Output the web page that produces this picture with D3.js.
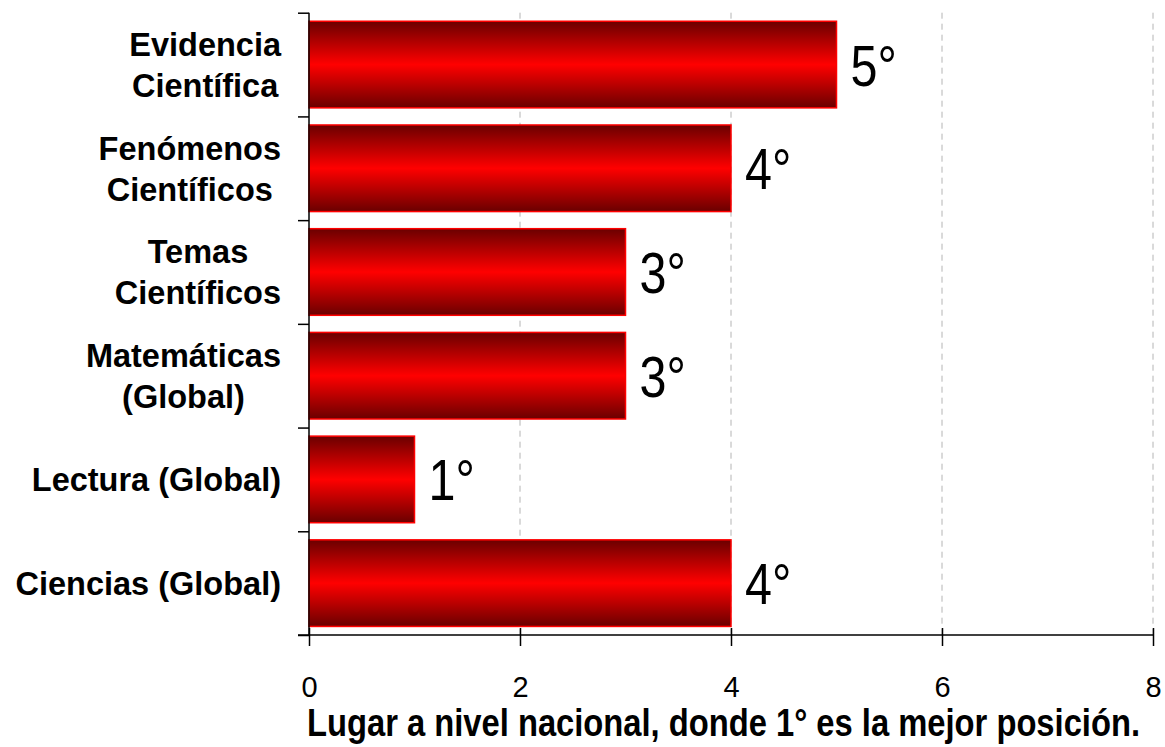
<!DOCTYPE html>
<html>
<head>
<meta charset="utf-8">
<script src="https://cdn.jsdelivr.net/npm/d3@7/dist/d3.min.js"></script>
<style>
  body { margin: 0; background: #fff; }
  svg { display: block; }
</style>
</head>
<body>
<div id="chart"></div>
<script>
// data, top to bottom
var categories = [
  ["Evidencia", "Científica"],
  ["Fenómenos", "Científicos"],
  ["Temas", "Científicos"],
  ["Matemáticas", "(Global)"],
  ["Lectura (Global)"],
  ["Ciencias (Global)"]
];
var values = [5, 4, 3, 3, 1, 4];
var rankLabels = ["5°", "4°", "3°", "3°", "1°", "4°"];
var xTicks = [0, 2, 4, 6, 8];
var xTitle = "Lugar a nivel nacional, donde 1° es la mejor posición.";

var W = 1165, H = 747;
var plotLeft = 309, plotRight = 1153, plotTop = 12.7, plotBottom = 635;
var sans = "'Liberation Sans', Arial, sans-serif";
var squeeze = 0.85; // no narrow font installed, so squeeze horizontally

var svg = d3.select("#chart")
  .append("svg")
  .attr("width", W)
  .attr("height", H);

var defs = svg.append("defs");
var grad = defs.append("linearGradient")
  .attr("id", "barGrad")
  .attr("x1", 0).attr("y1", 0).attr("x2", 0).attr("y2", 1);
grad.append("stop").attr("offset", "0%").attr("stop-color", "#6a0000");
grad.append("stop").attr("offset", "50%").attr("stop-color", "#ff0000");
grad.append("stop").attr("offset", "100%").attr("stop-color", "#6a0000");

var x = d3.scaleLinear().domain([0, 8]).range([plotLeft, plotRight]);

var idx = d3.range(categories.length);
var y = d3.scaleBand()
  .domain(idx)
  .range([plotTop, plotBottom])
  .paddingInner(0.165)
  .paddingOuter(0.0825);

// band boundaries for the left axis ticks
var yEdge = d3.scaleLinear().domain([0, categories.length]).range([plotTop, plotBottom]);

// dashed grid
svg.append("g")
  .selectAll("line")
  .data(xTicks.filter(d => d > 0))
  .enter()
  .append("line")
  .attr("x1", d => x(d)).attr("x2", d => x(d))
  .attr("y1", plotTop).attr("y2", plotBottom)
  .style("stroke", "#b4b4b4")
  .style("stroke-width", 1)
  .style("stroke-dasharray", "6,5");

// bars
svg.append("g")
  .selectAll("rect")
  .data(values)
  .enter()
  .append("rect")
  .attr("x", x(0))
  .attr("y", (d, i) => y(i))
  .attr("width", d => x(d) - x(0))
  .attr("height", y.bandwidth())
  .style("fill", "url(#barGrad)")
  .style("stroke", "#ff0000")
  .style("stroke-width", 1.5);

// value labels
svg.append("g")
  .selectAll("text")
  .data(values)
  .enter()
  .append("text")
  .attr("transform", (d, i) => "translate(" + (x(d) + 14) + "," + (y(i) + y.bandwidth() / 2 + 21) + ") scale(" + squeeze + ",1)")
  .style("font-family", sans)
  .style("font-size", "57px")
  .style("fill", "#000")
  .text((d, i) => rankLabels[i]);

// y axis (ticks on band edges)
var yAxis = svg.append("g")
  .attr("transform", "translate(" + plotLeft + ",0)")
  .call(d3.axisLeft(yEdge).tickValues(d3.range(categories.length + 1)).tickSize(11).tickFormat(""));
yAxis.select(".domain").attr("d", "M0," + plotTop + "V" + plotBottom);
yAxis.selectAll("line, path").style("stroke", "#000").style("stroke-width", 1.5);

// x axis
var xAxis = svg.append("g")
  .attr("transform", "translate(0," + plotBottom + ")")
  .call(d3.axisBottom(x).tickValues(xTicks).tickSize(11).tickPadding(30));
xAxis.select(".domain").attr("d", "M" + (plotLeft - 11) + ",0H" + plotRight);
xAxis.selectAll(".tick line").attr("y1", -7);
xAxis.selectAll("line, path").style("stroke", "#000").style("stroke-width", 1.5);
xAxis.selectAll("text")
  .style("font-family", sans)
  .style("font-size", "29px")
  .style("fill", "#000");

// category labels, centered block, right edge at 281
var catG = svg.append("g");
categories.forEach(function(lines, i) {
  var cy = y(i) + y.bandwidth() / 2;
  var t = catG.append("text")
    .attr("text-anchor", "middle")
    .style("font-family", sans)
    .style("font-weight", "bold")
    .style("font-size", "32.5px")
    .style("fill", "#000");
  var spans = lines.map(function(s) {
    return t.append("tspan").text(s);
  });
  var maxW = d3.max(spans, s => s.node().getComputedTextLength());
  var cx = 281 - maxW / 2;
  var first = cy + 12 - (lines.length - 1) * 41 / 2;
  spans.forEach(function(s, j) {
    s.attr("x", cx).attr("y", first + j * 41);
  });
});

// axis title
svg.append("text")
  .attr("x", 307)
  .attr("y", 736)
  .attr("textLength", 833)
  .attr("lengthAdjust", "spacingAndGlyphs")
  .style("font-family", sans)
  .style("font-weight", "bold")
  .style("font-size", "38px")
  .style("fill", "#000")
  .text(xTitle);
</script>
</body>
</html>
